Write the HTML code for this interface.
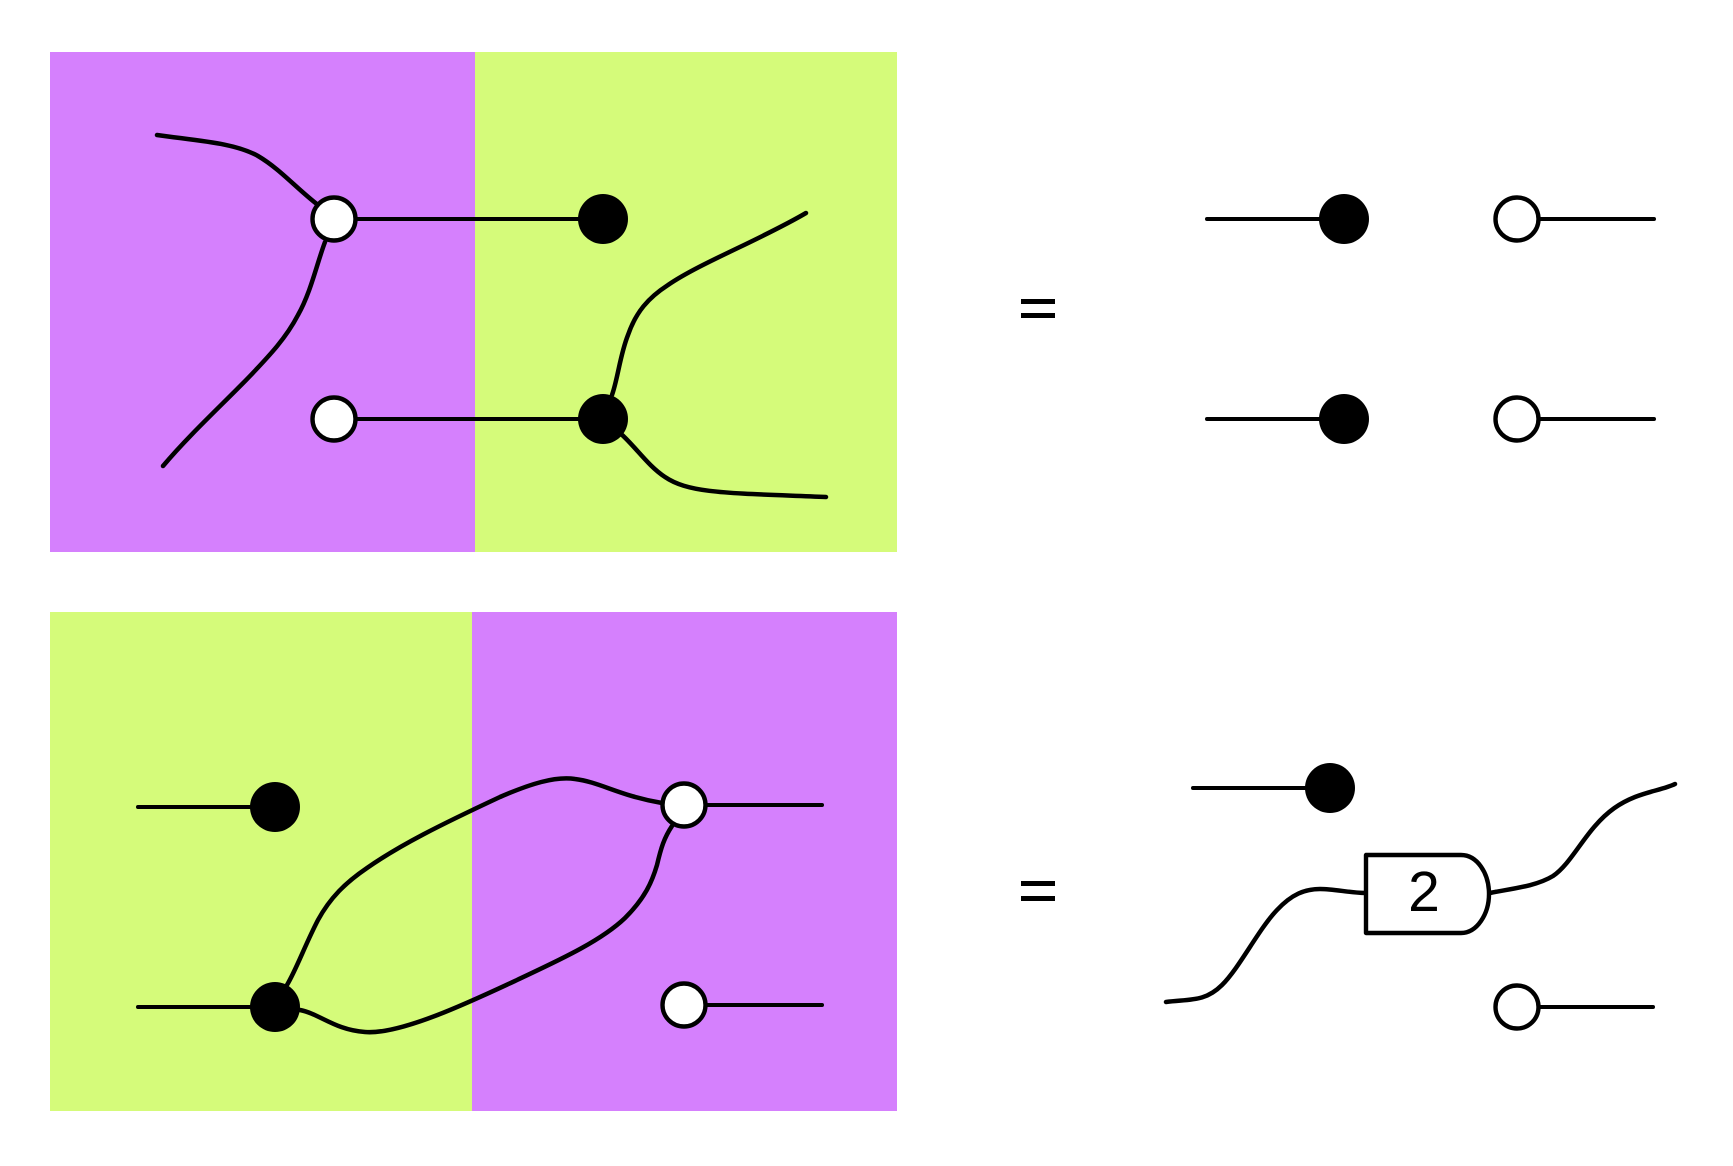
<!DOCTYPE html>
<html>
<head>
<meta charset="utf-8">
<style>
  html, body { margin: 0; padding: 0; background: #ffffff; }
  body { width: 1733px; height: 1166px; overflow: hidden; }
  svg { display: block; }
</style>
</head>
<body>
<svg width="1733" height="1166" viewBox="0 0 1733 1166" xmlns="http://www.w3.org/2000/svg">
  <rect x="0" y="0" width="1733" height="1166" fill="#ffffff"/>

  <!-- Top box -->
  <rect x="50" y="52" width="425" height="500" fill="#d580fd"/>
  <rect x="475" y="52" width="422" height="500" fill="#d5fb7a"/>

  <g fill="none" stroke="#000" stroke-width="4.5" stroke-linecap="round" stroke-linejoin="round">
    <!-- horizontal wires -->
    <line x1="334" y1="219" x2="603" y2="219" stroke-width="4"/>
    <line x1="334" y1="419" x2="603" y2="419" stroke-width="4"/>
    <!-- curves left -->
    <path d="M157,135 C200,141 235,143 258,156 C280,169 296,188 318,205"/>
    <path d="M325,242 C317,263 311,292 298,315 C286,338 270,355 250,376 C225,402 190,434 163,466"/>
    <!-- curves right -->
    <path d="M612,395 C618,378 620,355 628,335 C636,312 648,298 668,285 C700,263 760,240 806,213"/>
    <path d="M620,433 C635,446 648,466 665,477 C690,494 730,493 826,497"/>
  </g>
  <circle cx="334" cy="219" r="21.5" fill="#fff" stroke="#000" stroke-width="4.4"/>
  <circle cx="334" cy="419" r="21.5" fill="#fff" stroke="#000" stroke-width="4.4"/>
  <circle cx="603" cy="219" r="25" fill="#000"/>
  <circle cx="603" cy="419" r="25" fill="#000"/>

  <!-- Top equals -->
  <rect x="1021" y="299" width="34" height="5" fill="#000"/>
  <rect x="1021" y="313" width="34" height="5" fill="#000"/>

  <!-- Top right result -->
  <g stroke="#000" stroke-width="4" stroke-linecap="round">
    <line x1="1207" y1="219" x2="1344" y2="219"/>
    <line x1="1207" y1="419" x2="1344" y2="419"/>
    <line x1="1517" y1="219" x2="1654" y2="219"/>
    <line x1="1517" y1="419" x2="1654" y2="419"/>
  </g>
  <circle cx="1344" cy="219" r="25" fill="#000"/>
  <circle cx="1344" cy="419" r="25" fill="#000"/>
  <circle cx="1517" cy="219" r="21.5" fill="#fff" stroke="#000" stroke-width="4.4"/>
  <circle cx="1517" cy="419" r="21.5" fill="#fff" stroke="#000" stroke-width="4.4"/>

  <!-- Bottom box -->
  <rect x="50" y="612" width="422" height="499" fill="#d5fb7a"/>
  <rect x="472" y="612" width="425" height="499" fill="#d580fd"/>

  <g fill="none" stroke="#000" stroke-width="4.5" stroke-linecap="round" stroke-linejoin="round">
    <line x1="138" y1="807" x2="275" y2="807" stroke-width="4"/>
    <line x1="138" y1="1007" x2="275" y2="1007" stroke-width="4"/>
    <line x1="684" y1="805" x2="822" y2="805" stroke-width="4"/>
    <line x1="684" y1="1005" x2="822" y2="1005" stroke-width="4"/>
    <!-- upper curve -->
    <path d="M287,985 C297,968 305,945 318,920 C330,898 345,883 367,868 C400,845 440,825 500,797 C530,784 555,776 575,779 C600,782 620,796 662,803"/>
    <!-- lower curve -->
    <path d="M300,1010 C320,1014 335,1030 365,1032 C400,1035 470,1002 517,980 C555,962 600,942 625,918 C645,898 652,882 657,865 C661,848 664,838 672,826"/>
  </g>
  <circle cx="275" cy="807" r="25" fill="#000"/>
  <circle cx="275" cy="1007" r="25" fill="#000"/>
  <circle cx="684" cy="805" r="21.5" fill="#fff" stroke="#000" stroke-width="4.4"/>
  <circle cx="684" cy="1005" r="21.5" fill="#fff" stroke="#000" stroke-width="4.4"/>

  <!-- Bottom equals -->
  <rect x="1021" y="881" width="34" height="5" fill="#000"/>
  <rect x="1021" y="896" width="34" height="5" fill="#000"/>

  <!-- Bottom right result -->
  <g fill="none" stroke="#000" stroke-width="4.5" stroke-linecap="round" stroke-linejoin="round">
    <line x1="1193" y1="788" x2="1330" y2="788" stroke-width="4"/>
    <line x1="1517" y1="1007" x2="1653" y2="1007" stroke-width="4"/>
    <path d="M1166,1002 C1190,999 1205,1002 1222,985 C1240,967 1258,930 1277,910 C1292,894 1305,889 1320,889 C1335,889 1350,893 1366,893"/>
    <path d="M1490,893 C1508,889 1535,887 1553,876 C1568,866 1580,843 1595,826 C1608,811 1620,803 1635,797 C1650,791 1665,789 1675,784"/>
  </g>
  <circle cx="1330" cy="788" r="25" fill="#000"/>
  <circle cx="1517" cy="1007" r="21.5" fill="#fff" stroke="#000" stroke-width="4.4"/>

  <path d="M1366,855 L1461,855 C1477,855 1489,873 1489,894 C1489,914 1477,933 1461,933 L1366,933 Z" fill="#fff" stroke="#000" stroke-width="4.4" stroke-linejoin="round"/>
  <text x="1424" y="911" text-anchor="middle" font-family="Liberation Sans, Arial, sans-serif" font-size="57" fill="#000">2</text>
</svg>
</body>
</html>
